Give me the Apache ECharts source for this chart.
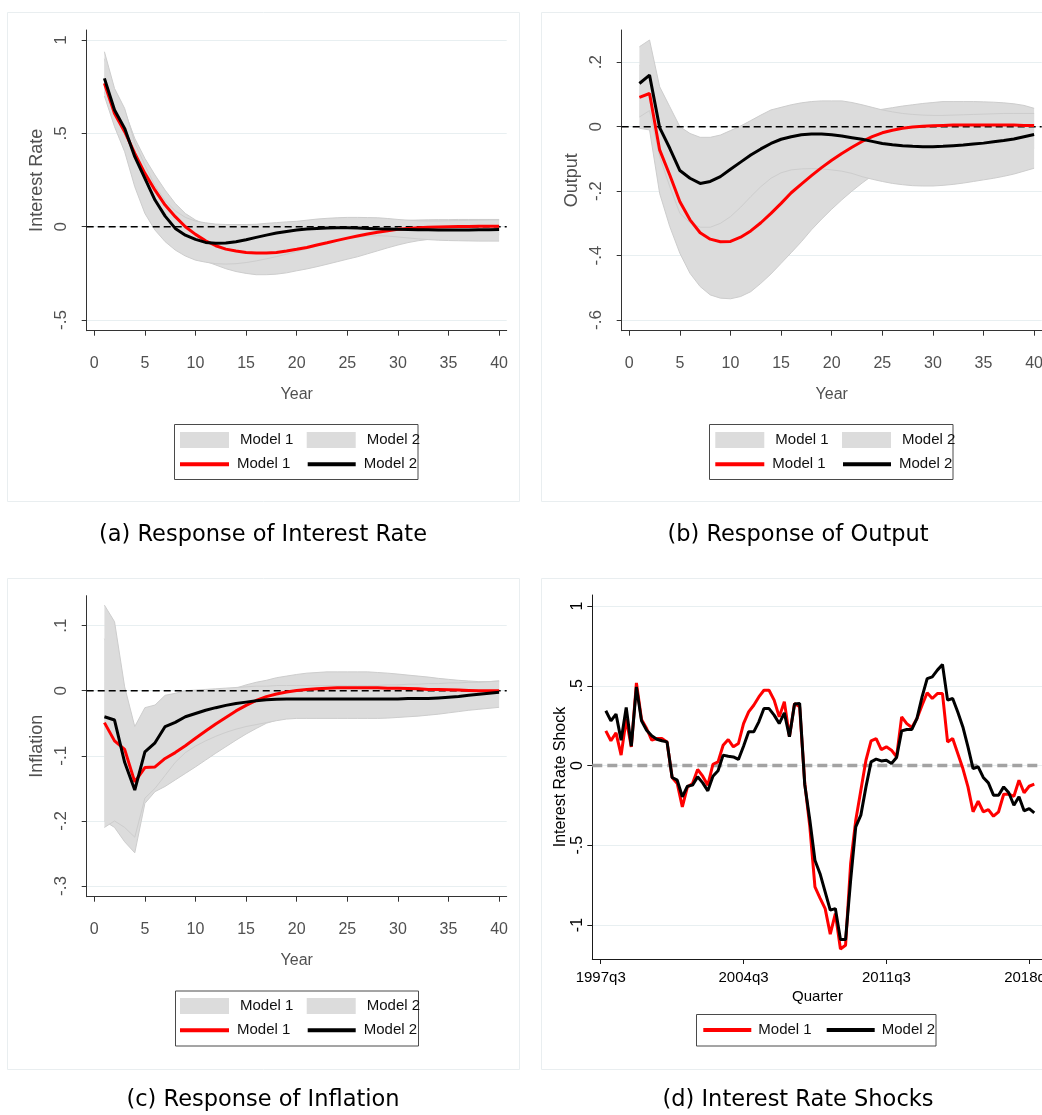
<!DOCTYPE html>
<html lang="en">
<head>
<meta charset="utf-8">
<title>Impulse responses and interest rate shocks</title>
<script src="https://cdn.jsdelivr.net/npm/echarts@6.0.0/dist/echarts.min.js"></script>
<style>
  html, body { margin: 0; padding: 0; background: #ffffff; }
  #chart { width: 1042px; height: 1115px; }
</style>
</head>
<body>
<div id="chart"></div>
<script>
// ---------- horizons and tick labels ----------
const years = [1,2,3,4,5,6,7,8,9,10,11,12,13,14,15,16,17,18,19,20,
               21,22,23,24,25,26,27,28,29,30,31,32,33,34,35,36,37,38,39,40];
const yearTicks = [0, 5, 10, 15, 20, 25, 30, 35, 40];
const rateTicks = [-0.5, 0, 0.5, 1];
const outputTicks = [-0.6, -0.4, -0.2, 0, 0.2];
const inflationTicks = [-0.3, -0.2, -0.1, 0, 0.1];
const shockTicks = [-1, -0.5, 0, 0.5, 1];
const quarterTickLabels = ['1997q3', '2004q3', '2011q3', '2018q3'];

// ---------- (a) interest rate response ----------
const rateM1 = [0.768,0.607,0.509,0.393,0.286,0.196,0.116,0.054,0.0,-0.041,
  -0.075,-0.102,-0.12,-0.13,-0.1375,-0.141,-0.141,-0.1375,-0.13,-0.121,
  -0.111,-0.098,-0.086,-0.073,-0.061,-0.05,-0.039,-0.03,-0.021,-0.014,
  -0.009,-0.005,-0.003,-0.001,0.0,0.001,0.001,0.002,0.002,0.002];
const rateM2 = [0.795,0.625,0.527,0.375,0.259,0.143,0.057,-0.009,-0.045,-0.068,
  -0.084,-0.089,-0.0875,-0.08,-0.07,-0.057,-0.045,-0.034,-0.025,-0.018,
  -0.0125,-0.009,-0.007,-0.005,-0.005,-0.007,-0.009,-0.011,-0.0125,-0.014,
  -0.015,-0.016,-0.016,-0.017,-0.017,-0.017,-0.017,-0.016,-0.016,-0.015];
const rateLo1 = [0.72,0.55,0.42,0.25,0.12,0.03,-0.04,-0.09,-0.13,-0.16,
  -0.185,-0.205,-0.225,-0.24,-0.25,-0.257,-0.257,-0.254,-0.247,-0.236,
  -0.226,-0.214,-0.201,-0.1875,-0.174,-0.161,-0.145,-0.129,-0.113,-0.098,
  -0.085,-0.075,-0.068,-0.062,-0.057,-0.053,-0.05,-0.047,-0.045,-0.043];
const rateHi1 = [0.90,0.72,0.62,0.473,0.366,0.277,0.196,0.125,0.071,0.036,
  0.012,-0.005,-0.018,-0.027,-0.032,-0.035,-0.035,-0.033,-0.029,-0.024,
  -0.018,-0.012,-0.006,0.0,0.006,0.012,0.018,0.024,0.029,0.032,
  0.034,0.036,0.037,0.038,0.038,0.039,0.039,0.039,0.039,0.039];
const rateLo2 = [0.70,0.536,0.402,0.214,0.071,-0.018,-0.08,-0.125,-0.157,-0.179,
  -0.19,-0.198,-0.2,-0.198,-0.192,-0.183,-0.172,-0.16,-0.147,-0.133,
  -0.118,-0.103,-0.088,-0.075,-0.063,-0.055,-0.05,-0.048,-0.05,-0.055,
  -0.06,-0.065,-0.069,-0.072,-0.074,-0.075,-0.076,-0.077,-0.077,-0.077];
const rateHi2 = [0.9375,0.741,0.634,0.45,0.33,0.22,0.14,0.085,0.05,0.03,
  0.021,0.014,0.012,0.012,0.012,0.013,0.018,0.022,0.026,0.029,
  0.035,0.041,0.045,0.048,0.05,0.05,0.049,0.048,0.044,0.039,
  0.035,0.032,0.031,0.031,0.032,0.033,0.034,0.035,0.036,0.036];

// ---------- (b) output response ----------
const outM1 = [0.091,0.103,-0.072,-0.15,-0.233,-0.289,-0.329,-0.349,-0.357,-0.356,
  -0.343,-0.3235,-0.298,-0.269,-0.238,-0.205,-0.178,-0.152,-0.127,-0.104,
  -0.083,-0.064,-0.046,-0.031,-0.019,-0.011,-0.005,-0.001,0.001,0.003,
  0.004,0.005,0.005,0.005,0.005,0.005,0.005,0.005,0.004,0.004];
const outM2 = [0.134,0.16,-0.003,-0.067,-0.136,-0.16,-0.176,-0.17,-0.155,-0.132,
  -0.11,-0.088,-0.069,-0.052,-0.039,-0.031,-0.025,-0.023,-0.023,-0.025,
  -0.029,-0.034,-0.039,-0.0455,-0.052,-0.056,-0.059,-0.061,-0.062,-0.062,
  -0.061,-0.059,-0.057,-0.054,-0.051,-0.047,-0.043,-0.038,-0.031,-0.024];
const outLo1 = [-0.005,-0.01,-0.207,-0.31,-0.393,-0.455,-0.496,-0.522,-0.532,-0.534,
  -0.527,-0.512,-0.486,-0.457,-0.424,-0.391,-0.357,-0.32,-0.287,-0.256,
  -0.227,-0.2,-0.175,-0.152,-0.13,-0.11,-0.094,-0.082,-0.074,-0.068,
  -0.065,-0.063,-0.062,-0.062,-0.062,-0.063,-0.064,-0.065,-0.066,-0.067];
const outHi1 = [0.19,0.21,0.05,-0.02,-0.09,-0.14,-0.17,-0.18,-0.18,-0.175,
  -0.16,-0.14,-0.12,-0.1,-0.08,-0.06,-0.04,-0.02,0.0,0.015,
  0.028,0.038,0.045,0.05,0.054,0.059,0.064,0.068,0.072,0.075,
  0.078,0.078,0.078,0.078,0.077,0.076,0.074,0.071,0.066,0.057];
const outLo2 = [0.03,0.05,-0.093,-0.186,-0.269,-0.298,-0.312,-0.312,-0.30,-0.279,
  -0.25,-0.217,-0.186,-0.16,-0.143,-0.134,-0.131,-0.13,-0.131,-0.134,
  -0.138,-0.145,-0.155,-0.163,-0.17,-0.176,-0.18,-0.183,-0.184,-0.184,
  -0.182,-0.179,-0.175,-0.17,-0.165,-0.16,-0.154,-0.147,-0.138,-0.129];
const outHi2 = [0.248,0.269,0.124,0.062,0.0,-0.021,-0.033,-0.033,-0.026,-0.012,
  0.002,0.019,0.036,0.052,0.06,0.068,0.074,0.078,0.08,0.08,
  0.08,0.075,0.068,0.06,0.052,0.046,0.041,0.038,0.036,0.035,
  0.035,0.036,0.037,0.038,0.039,0.04,0.041,0.041,0.041,0.041];

// ---------- (c) inflation response ----------
const inflM1 = [-0.049,-0.077,-0.09,-0.14,-0.118,-0.117,-0.104,-0.095,-0.0845,-0.073,
  -0.062,-0.051,-0.041,-0.031,-0.0225,-0.015,-0.009,-0.005,-0.002,0.0005,
  0.002,0.003,0.004,0.0045,0.0045,0.0045,0.0045,0.0045,0.004,0.004,
  0.0035,0.003,0.002,0.002,0.0015,0.001,0.0005,0.0,0.0,0.0];
const inflM2 = [-0.04,-0.045,-0.11,-0.1525,-0.094,-0.08,-0.055,-0.0485,-0.04,-0.035,
  -0.03,-0.026,-0.0225,-0.0195,-0.0175,-0.0155,-0.014,-0.013,-0.0125,-0.0125,
  -0.0125,-0.0125,-0.0125,-0.0125,-0.0125,-0.0125,-0.0125,-0.0125,-0.0125,-0.0125,
  -0.012,-0.012,-0.012,-0.011,-0.01,-0.009,-0.007,-0.0055,-0.004,-0.0025];
const inflLo1 = [-0.2,-0.21,-0.232,-0.249,-0.173,-0.155,-0.147,-0.137,-0.127,-0.117,
  -0.1065,-0.096,-0.086,-0.076,-0.0665,-0.058,-0.05,-0.045,-0.04,-0.035,
  -0.031,-0.028,-0.025,-0.023,-0.021,-0.02,-0.019,-0.018,-0.017,-0.016,
  -0.015,-0.015,-0.014,-0.014,-0.014,-0.013,-0.013,-0.013,-0.013,-0.013];
const inflHi1 = [0.08,0.05,-0.02,-0.07,-0.06,-0.055,-0.045,-0.038,-0.03,-0.022,
  -0.015,-0.008,-0.002,0.004,0.009,0.013,0.016,0.02,0.0225,0.025,
  0.027,0.028,0.029,0.029,0.029,0.029,0.029,0.028,0.027,0.0256,
  0.024,0.0225,0.021,0.019,0.0175,0.016,0.015,0.014,0.014,0.015];
const inflLo2 = [-0.21,-0.2,-0.21,-0.225,-0.165,-0.15,-0.13,-0.11,-0.095,-0.085,
  -0.077,-0.07,-0.064,-0.059,-0.055,-0.052,-0.049,-0.046,-0.0435,-0.0425,
  -0.0425,-0.0425,-0.0425,-0.0425,-0.0425,-0.0425,-0.0425,-0.0425,-0.042,-0.041,
  -0.04,-0.039,-0.0375,-0.036,-0.034,-0.032,-0.03,-0.0285,-0.027,-0.0255];
const inflHi2 = [0.1315,0.106,0.006,-0.055,-0.026,-0.022,-0.007,-0.004,0.0,0.001,
  0.002,0.003,0.004,0.005,0.006,0.007,0.007,0.008,0.008,0.008,
  0.008,0.008,0.008,0.008,0.008,0.008,0.008,0.008,0.009,0.009,
  0.01,0.01,0.011,0.011,0.012,0.012,0.013,0.013,0.014,0.015];

// ---------- (d) estimated interest rate shocks, 1997q4 - 2018q4 ----------
const shockM1 = [0.217,0.155,0.205,0.065,0.29,0.117,0.518,0.288,0.232,0.159,
  0.169,0.169,0.148,-0.075,-0.113,-0.26,-0.134,-0.113,-0.025,-0.067,
  -0.123,0.008,0.023,0.127,0.163,0.117,0.138,0.263,0.336,0.378,
  0.43,0.472,0.472,0.41,0.305,0.40,0.18,0.389,0.368,-0.11,
  -0.385,-0.761,-0.831,-0.897,-1.057,-0.928,-1.15,-1.127,-0.614,-0.343,
  -0.155,0.033,0.155,0.169,0.1,0.117,0.096,0.054,0.305,0.263,
  0.238,0.295,0.378,0.456,0.42,0.451,0.451,0.148,0.169,0.075,
  -0.019,-0.134,-0.29,-0.224,-0.29,-0.276,-0.318,-0.29,-0.18,-0.18,
  -0.193,-0.092,-0.171,-0.13,-0.117];
const shockM2 = [0.343,0.28,0.322,0.159,0.364,0.121,0.493,0.28,0.221,0.186,
  0.165,0.155,0.148,-0.075,-0.092,-0.196,-0.13,-0.123,-0.071,-0.109,
  -0.159,-0.067,-0.033,0.065,0.058,0.054,0.038,0.121,0.211,0.211,
  0.274,0.357,0.357,0.316,0.263,0.33,0.18,0.385,0.389,-0.12,
  -0.343,-0.594,-0.678,-0.792,-0.907,-0.897,-1.091,-1.091,-0.719,-0.385,
  -0.311,-0.134,0.023,0.04,0.029,0.033,0.0125,0.05,0.217,0.226,
  0.226,0.295,0.43,0.545,0.556,0.598,0.633,0.41,0.42,0.336,
  0.242,0.117,-0.019,-0.008,-0.075,-0.109,-0.186,-0.186,-0.134,-0.171,
  -0.249,-0.196,-0.284,-0.27,-0.297];

// quarter labels and their position on the quarter scale (0 = 1997q3)
const quarterIndex = q => (Number(q.slice(0, 4)) - 1997) * 4 + (Number(q.slice(5)) - 3);
const quarters = [];
for (let y = 1997, n = 4; quarters.length < shockM1.length;) {
  quarters.push(y + 'q' + n);
  n += 1;
  if (n > 4) { n = 1; y += 1; }
}

// ---------- styling ----------
const FONT_N = '"Liberation Sans Narrow", "Liberation Sans", Arial, sans-serif';
const FONT_R = '"Liberation Sans", Arial, sans-serif';
const FONT_CAP = '"DejaVu Sans", sans-serif';
const TXT_GRAY = '#505050';
const AXIS = '#333333';
const GRID = '#e8eff1';
const BAND = '#dcdcdc';
const BAND_EDGE = '#cdcdcd';
const RED = '#ff0000';
const BLACK = '#000000';

// Stata style numbers: .5, -.2
const stataNum = v => String(v).replace(/^(-?)0\./, '$1.');

const option = {
  animation: false,
  backgroundColor: '#ffffff',
  grid: [], xAxis: [], yAxis: [], series: [], legend: [], graphic: []
};

// confidence band: one polygon spanning the whole horizon
function bandSeries(name, idx, xs, lo, hi) {
  return {
    type: 'custom', name: name, xAxisIndex: idx, yAxisIndex: idx,
    data: xs.map((x, i) => [x, lo[i], hi[i]]),
    encode: { x: 0, y: [1, 2] },
    itemStyle: { color: BAND },
    silent: true,
    renderItem: function (params, api) {
      if (params.dataIndexInside !== 0) return null;
      const n = params.dataInsideLength;
      const upper = [], lower = [];
      for (let i = 0; i < n; i++) {
        upper.push(api.coord([api.value(0, i), api.value(2, i)]));
        lower.push(api.coord([api.value(0, i), api.value(1, i)]));
      }
      return {
        type: 'group',
        children: [
          { type: 'polygon', shape: { points: upper.concat(lower.slice().reverse()) },
            style: { fill: BAND, stroke: null } },
          { type: 'polyline', shape: { points: upper },
            style: { fill: null, stroke: BAND_EDGE, lineWidth: 1 } },
          { type: 'polyline', shape: { points: lower },
            style: { fill: null, stroke: BAND_EDGE, lineWidth: 1 } }
        ]
      };
    }
  };
}

function lineSeries(name, idx, xs, ys, color, width) {
  return {
    type: 'line', name: name, xAxisIndex: idx, yAxisIndex: idx,
    data: xs.map((x, i) => [x, ys[i]]),
    symbol: 'none', silent: true,
    color: color,
    lineStyle: { color: color, width: width },
    itemStyle: { color: color }
  };
}

function zeroLine(idx, xMin, xMax, color, width, dash) {
  return {
    type: 'line', xAxisIndex: idx, yAxisIndex: idx,
    data: [[xMin, 0], [xMax, 0]], symbol: 'none', silent: true,
    lineStyle: { color: color, width: width, type: dash }
  };
}

function legendItem(name, left, top, iconH, iconW, color, textPad) {
  return {
    data: [{ name: name, icon: 'rect', itemStyle: { color: color, borderWidth: 0 } }],
    left: left, top: top, padding: 0, orient: 'horizontal',
    itemWidth: iconW, itemHeight: iconH, selectedMode: false,
    formatter: n => n.replace(' band', ''),
    textStyle: { fontFamily: FONT_N, fontSize: 15, color: '#111111', padding: [0, 0, 0, textPad] }
  };
}

function frame(x, y, w, h, stroke) {
  return { type: 'rect', silent: true, shape: { x: x, y: y, width: w, height: h },
           style: { fill: 'none', stroke: stroke, lineWidth: 1 } };
}

function caption(text, cx, cy) {
  return { type: 'text', silent: true, x: cx, y: cy,
           style: { text: text, align: 'center', verticalAlign: 'middle',
                    font: '22.5px ' + FONT_CAP, fill: '#000000' } };
}

// ---------- impulse response panels (a), (b), (c) ----------
const irfPanels = [
  { grid: { left: 86.7, top: 30, width: 420, height: 300.7 }, yMin: -0.557, yMax: 1.054,
    ticks: rateTicks, yName: 'Interest Rate',
    m1: rateM1, m2: rateM2, lo1: rateLo1, hi1: rateHi1, lo2: rateLo2, hi2: rateHi2,
    legendX: 0, row1: 440, row2: 464.3, box: [174.5, 424.5, 243.5, 55],
    frame: [7.5, 12.5, 512, 489], cap: ['(a) Response of Interest Rate', 263, 535] },
  { grid: { left: 621.7, top: 30, width: 420, height: 300.7 }, yMin: -0.633, yMax: 0.30,
    ticks: outputTicks, yName: 'Output',
    m1: outM1, m2: outM2, lo1: outLo1, hi1: outHi1, lo2: outLo2, hi2: outHi2,
    legendX: 535.3, row1: 440, row2: 464.3, box: [709.5, 424.5, 243.5, 55],
    frame: [541.5, 12.5, 520, 489], cap: ['(b) Response of Output', 798, 535] },
  { grid: { left: 86.7, top: 595.7, width: 420, height: 301 }, yMin: -0.3164, yMax: 0.146,
    ticks: inflationTicks, yName: 'Inflation',
    m1: inflM1, m2: inflM2, lo1: inflLo1, hi1: inflHi1, lo2: inflLo2, hi2: inflHi2,
    legendX: 0, row1: 1006, row2: 1030.3, box: [175.5, 991, 243, 55],
    frame: [7.5, 578.5, 512, 491], cap: ['(c) Response of Inflation', 263, 1100] }
];

irfPanels.forEach((p, k) => {
  option.grid.push(Object.assign({ containLabel: false, outerBoundsMode: 'none' }, p.grid));
  option.xAxis.push({
    gridIndex: k, type: 'value', min: -0.75, max: 40.75,
    axisLine: { show: true, onZero: false, lineStyle: { color: AXIS, width: 1 } },
    axisTick: { show: true, length: 5, customValues: yearTicks, lineStyle: { color: AXIS } },
    axisLabel: { customValues: yearTicks, margin: 25, color: TXT_GRAY, fontFamily: FONT_N, fontSize: 16 },
    splitLine: { show: false },
    name: 'Year', nameLocation: 'middle', nameGap: 56,
    nameTextStyle: { color: TXT_GRAY, fontFamily: FONT_N, fontSize: 16 }
  });
  option.yAxis.push({
    gridIndex: k, type: 'value', min: p.yMin, max: p.yMax,
    axisLine: { show: true, onZero: false, lineStyle: { color: AXIS, width: 1 } },
    axisTick: { show: true, length: 5, customValues: p.ticks, lineStyle: { color: AXIS } },
    axisLabel: { customValues: p.ticks, rotate: 90, margin: 17, color: TXT_GRAY,
                 fontFamily: FONT_R, fontSize: 17, formatter: stataNum },
    splitLine: { show: true, lineStyle: { color: GRID, width: 1 } },
    name: p.yName, nameLocation: 'middle', nameGap: 41, nameRotate: 90,
    nameTextStyle: { color: TXT_GRAY, fontFamily: FONT_R, fontSize: 18 }
  });
  option.series.push(
    zeroLine(k, -0.75, 40.75, BLACK, 1.4, [7, 4]),
    bandSeries('Model 1 band', k, years, p.lo1, p.hi1),
    bandSeries('Model 2 band', k, years, p.lo2, p.hi2),
    lineSeries('Model 1', k, years, p.m1, RED, 3),
    lineSeries('Model 2', k, years, p.m2, BLACK, 3)
  );
  const lx = p.legendX;
  option.legend.push(
    legendItem('Model 1 band', 180 + lx, p.row1 - 8, 16, 49, BAND, 6),
    legendItem('Model 2 band', 306.7 + lx, p.row1 - 8, 16, 49, BAND, 6),
    legendItem('Model 1', 180 + lx, p.row2 - 7.5, 4, 49, RED, 3),
    legendItem('Model 2', 307.7 + lx, p.row2 - 7.5, 4, 48, BLACK, 3)
  );
  option.graphic.push(
    frame(p.frame[0], p.frame[1], p.frame[2], p.frame[3], '#e9eef0'),
    frame(p.box[0], p.box[1], p.box[2], p.box[3], '#4a4a4a'),
    caption(p.cap[0], p.cap[1], p.cap[2])
  );
});

// ---------- shock panel (d) ----------
const dIdx = 3;
const qx = quarters.map(quarterIndex);
const qTicks = quarterTickLabels.map(quarterIndex);
const qLabel = {};
quarterTickLabels.forEach(q => { qLabel[quarterIndex(q)] = q; });

option.grid.push({ left: 592.3, top: 595, width: 450.4, height: 364,
                   containLabel: false, outerBoundsMode: 'none' });
option.xAxis.push({
  gridIndex: dIdx, type: 'value', min: -1.65, max: 86.65,
  axisLine: { show: true, onZero: false, lineStyle: { color: '#1a1a1a', width: 1 } },
  axisTick: { show: true, length: 5, customValues: qTicks, lineStyle: { color: '#1a1a1a' } },
  axisLabel: { customValues: qTicks, margin: 11, color: '#000000', fontFamily: FONT_N, fontSize: 15,
               formatter: v => qLabel[v] },
  splitLine: { show: false },
  name: 'Quarter', nameLocation: 'middle', nameGap: 30,
  nameTextStyle: { color: '#000000', fontFamily: FONT_N, fontSize: 15 }
});
option.yAxis.push({
  gridIndex: dIdx, type: 'value', min: -1.213, max: 1.069,
  axisLine: { show: true, onZero: false, lineStyle: { color: '#1a1a1a', width: 1 } },
  axisTick: { show: true, length: 5, customValues: shockTicks, lineStyle: { color: '#1a1a1a' } },
  axisLabel: { customValues: shockTicks, rotate: 90, margin: 7, color: '#000000',
               fontFamily: FONT_R, fontSize: 16, formatter: stataNum },
  splitLine: { show: true, lineStyle: { color: GRID, width: 1 } },
  name: 'Interest Rate Shock', nameLocation: 'middle', nameGap: 22, nameRotate: 90,
  nameTextStyle: { color: '#000000', fontFamily: FONT_R, fontSize: 16 }
});
option.series.push(
  zeroLine(dIdx, -1.65, 86.65, '#a3a3a3', 3.5, [10, 5]),
  lineSeries('Model 1', dIdx, qx, shockM1, RED, 3),
  lineSeries('Model 2', dIdx, qx, shockM2, BLACK, 3)
);
option.legend.push(
  legendItem('Model 1', 703.3, 1030 - 7.5, 4, 48, RED, 2),
  legendItem('Model 2', 826.7, 1030 - 7.5, 4, 48, BLACK, 2)
);
option.graphic.push(
  frame(541.5, 578.5, 520, 491, '#e9eef0'),
  frame(696.5, 1014.5, 239.5, 31.5, '#4a4a4a'),
  caption('(d) Interest Rate Shocks', 798, 1100)
);

const chart = echarts.init(document.getElementById('chart'), null, { renderer: 'canvas' });
chart.setOption(option);
</script>
</body>
</html>
